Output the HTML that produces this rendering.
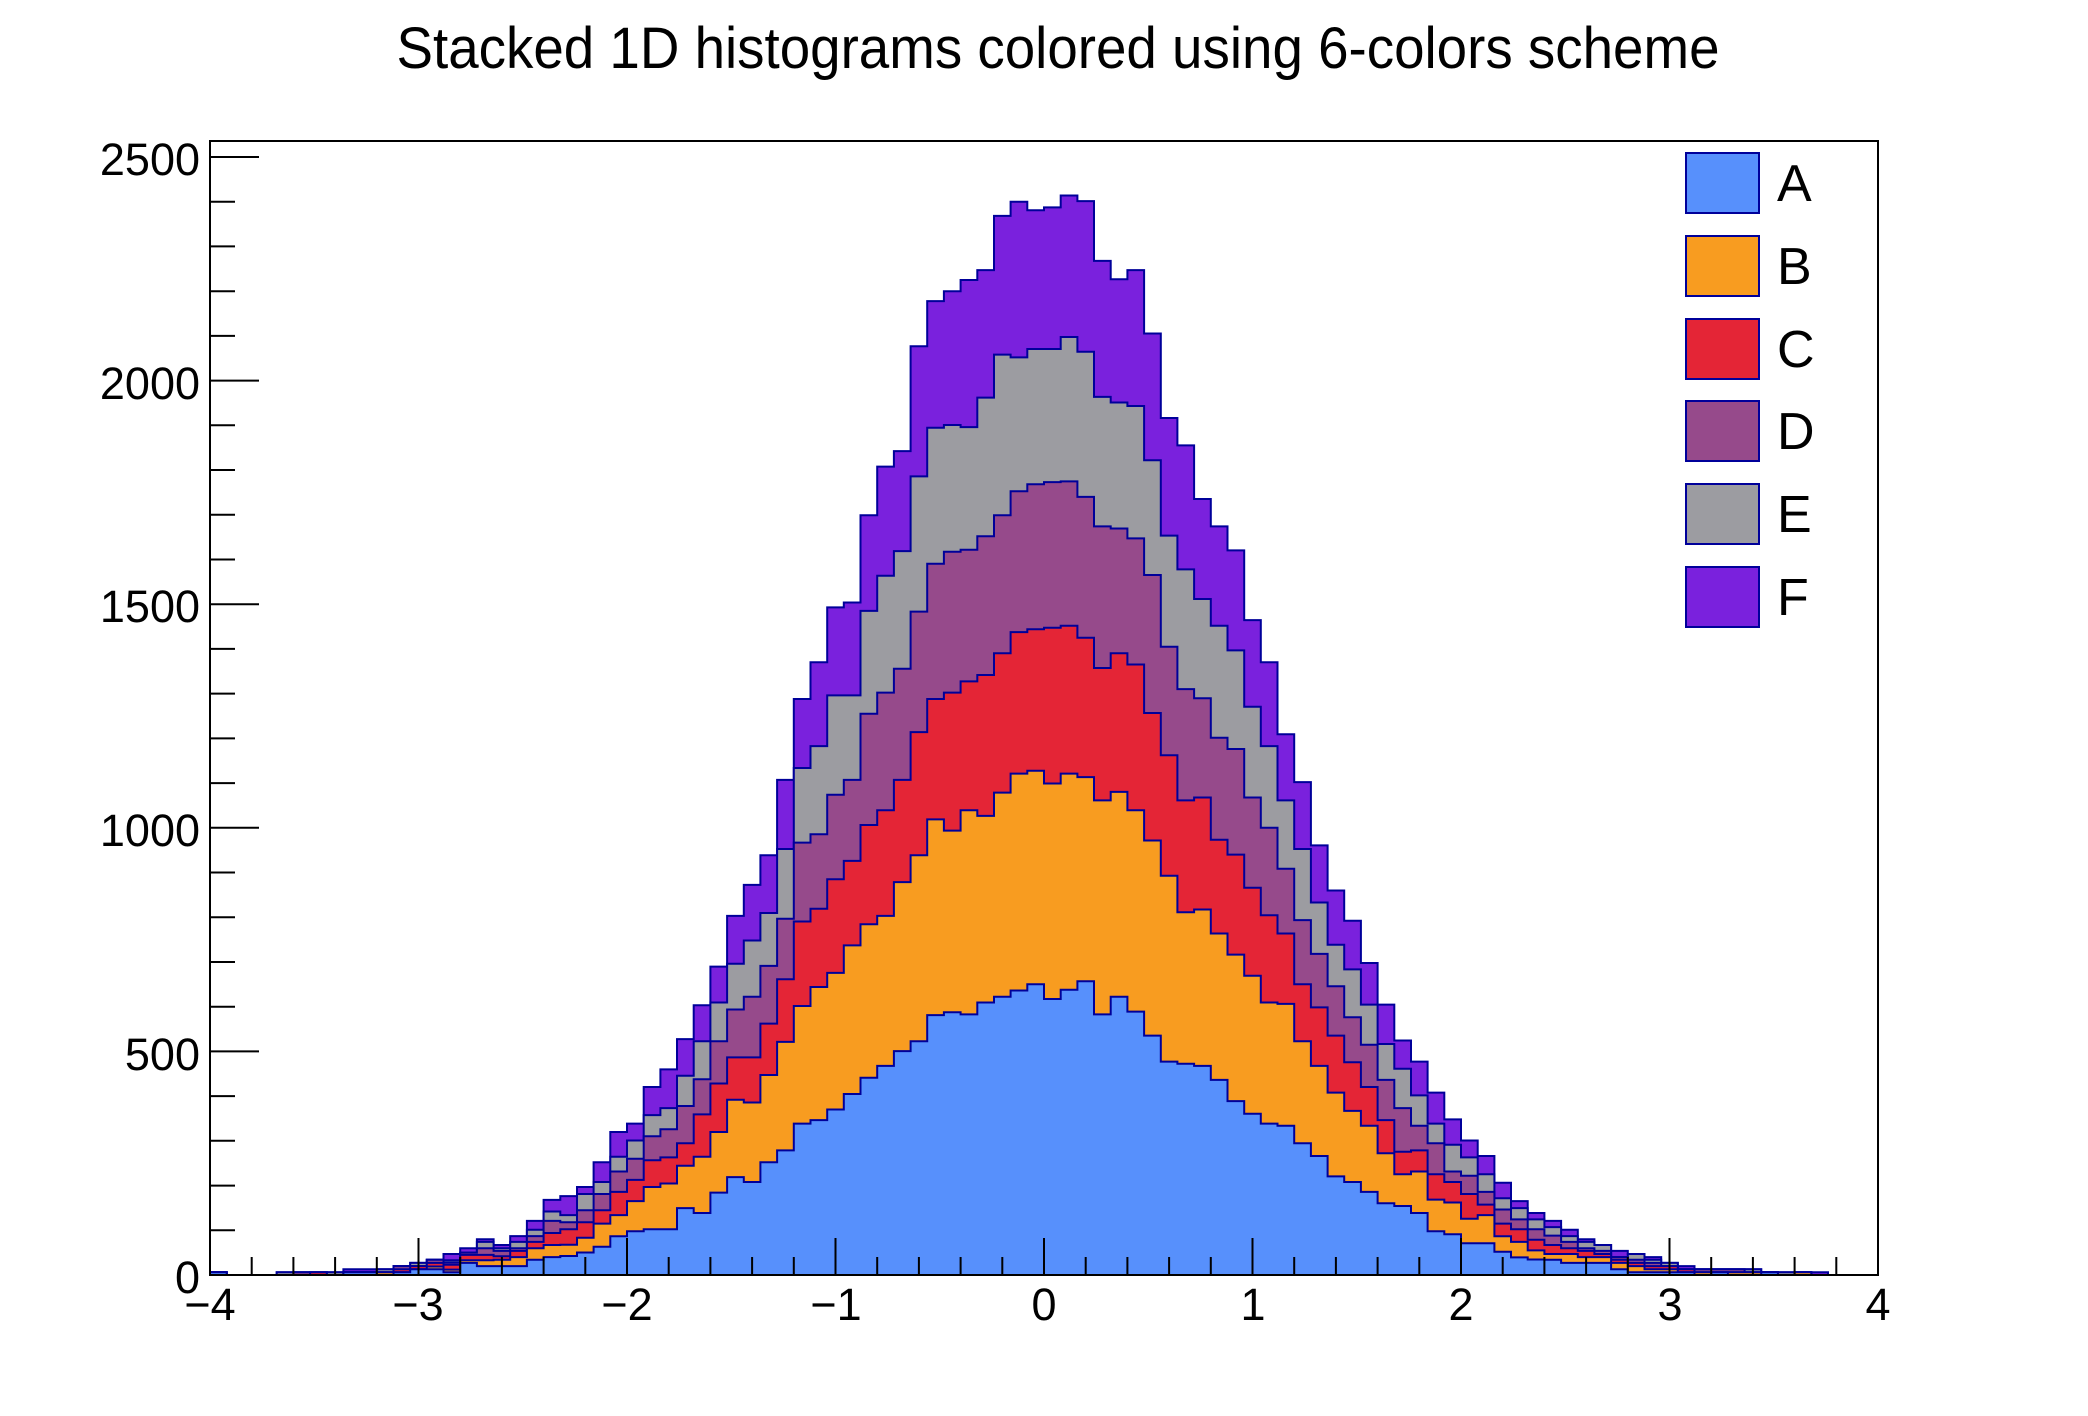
<!DOCTYPE html>
<html><head><meta charset="utf-8">
<style>
html,body{margin:0;padding:0;background:#fff;}
svg{display:block;font-family:"Liberation Sans",Arial,sans-serif;}
</style></head>
<body>
<svg id="s" xmlns="http://www.w3.org/2000/svg" width="2088" height="1416" viewBox="0 0 2088 1416">
<rect width="2088" height="1416" fill="#fff"/>
<g id="hist"></g>
<g id="ticks" stroke="#000" stroke-width="2"></g>
<rect x="210" y="141" width="1668" height="1134" fill="none" stroke="#000" stroke-width="2"/>
<text x="1058" y="68" font-size="58" text-anchor="middle" textLength="1323" lengthAdjust="spacingAndGlyphs">Stacked 1D histograms colored using 6-colors scheme</text>
<g font-size="45" text-anchor="end">
<text x="200" y="1293">0</text>
<text x="200" y="1070">500</text>
<text x="200" y="846">1000</text>
<text x="200" y="622">1500</text>
<text x="200" y="399">2000</text>
<text x="200" y="175">2500</text>
</g>
<g font-size="45" text-anchor="middle">
<text x="210" y="1320">−4</text>
<text x="418" y="1320">−3</text>
<text x="627" y="1320">−2</text>
<text x="836" y="1320">−1</text>
<text x="1044" y="1320">0</text>
<text x="1253" y="1320">1</text>
<text x="1461" y="1320">2</text>
<text x="1670" y="1320">3</text>
<text x="1878" y="1320">4</text>
</g>
<g stroke="#00009a" stroke-width="2">
<rect x="1686" y="153" width="73" height="60" fill="#5790fc"/>
<rect x="1686" y="236" width="73" height="60" fill="#f89c20"/>
<rect x="1686" y="319" width="73" height="60" fill="#e42536"/>
<rect x="1686" y="401" width="73" height="60" fill="#964a8b"/>
<rect x="1686" y="484" width="73" height="60" fill="#9c9ca1"/>
<rect x="1686" y="567" width="73" height="60" fill="#7a21dd"/>
</g>
<g font-size="52">
<text x="1777" y="201">A</text>
<text x="1777" y="284">B</text>
<text x="1777" y="367">C</text>
<text x="1777" y="449">D</text>
<text x="1777" y="532">E</text>
<text x="1777" y="615">F</text>
</g>
</svg>
<script>
(function(){
var cum=[];
function z(a){return a.map(function(v){var c=(1555-v)*1.5747;return c<0?0:c;});}
var tails={
0:[6,6,6,6,6,6],1:[0,0,0,0,0,0],2:[0,0,0,0,0,0],3:[0,0,0,0,0,0],
4:[0,0,0,0,6,6],5:[0,0,0,6,6,6],6:[0,0,6,6,6,6],7:[0,0,0,0,6,6],
8:[6,6,6,6,6,13],9:[6,6,6,6,6,13],10:[0,6,6,6,13,13],
11:[6,6,13,20,20,20],12:[13,13,20,20,27,27],13:[13,19,27,34,34,34],
14:[6,12,23,28,33,47],15:[27,33,45,50,50,60],16:[20,33,45,60,74,80],
17:[20,34,42,54,60,67],18:[20,40,54,60,74,87],19:[34,60,74,87,101,121],
20:[40,67,94,121,142,168],
80:[34,47,67,88,107,121],81:[27,47,60,74,87,101],82:[27,40,54,60,74,80],
83:[27,40,47,54,67,67],84:[13,27,34,40,40,54],85:[6,20,27,34,47,47],
86:[6,13,20,27,34,40],87:[6,13,20,20,27,27],88:[6,6,13,13,13,20],
89:[0,6,6,13,13,13],90:[6,6,6,13,13,13],91:[0,6,6,13,13,13],
92:[0,6,6,6,13,13],93:[6,6,6,6,6,6],94:[0,0,0,0,6,6],95:[0,6,6,6,6,6],
96:[0,0,0,0,0,6],97:[0,0,0,0,0,0],98:[0,0,0,0,0,0],99:[0,0,0,0,0,0]};
var mid={
21:[1528,1512,1490,1480,1470,1443],22:[1523,1502,1480,1463,1440,1430],
23:[1515,1482,1463,1440,1423,1395],24:[1500,1470,1437,1408,1387,1352],
25:[1493,1450,1420,1390,1364,1340],26:[1490,1430,1392,1358,1328,1288],
27:[1490,1425,1388,1348,1318,1263],28:[1460,1400,1368,1315,1272,1220],
29:[1467,1387,1327,1277,1223,1172],30:[1438,1352,1283,1223,1168,1117],
31:[1416,1306,1246,1178,1113,1045],32:[1423,1310,1246,1160,1080,1001],
33:[1395,1271,1198,1116,1041,959],34:[1378,1224,1135,1049,950,852],
35:[1340,1173,1053,941,835,737],36:[1335,1146,1035,929,804,685],
37:[1320,1126,993,873,732,607],38:[1298,1087,967,852,732,600],
39:[1275,1057,916,758,612,476],40:[1258,1045,895,728,562,407],
41:[1237,997,852,694,527,385],42:[1223,959,784,613,421,236],
43:[1186,908,737,545,352,172],44:[1182,924,728,528,348,158],
45:[1185,895,712,525,351,142],46:[1168,903,703,506,309,128],
47:[1160,870,672,476,248,51],48:[1151,843,642,442,252,31],
49:[1142,839,638,432,240,43],50:[1163,857,636,429,240,39],
51:[1150,843,633,428,223,22],52:[1138,848,650,450,244,30],
53:[1185,881,693,492,308,115],54:[1160,869,672,495,316,141],
55:[1181,895,688,509,321,128],56:[1215,938,757,561,398,218],
57:[1252,988,817,663,505,338],58:[1255,1040,881,723,553,377],
59:[1258,1036,877,736,595,453],60:[1278,1070,937,792,633,492],
61:[1308,1100,958,808,668,526],62:[1326,1130,1005,877,748,625],
63:[1340,1168,1044,920,804,685],64:[1343,1170,1070,978,881,787],
65:[1368,1223,1142,1051,950,855],66:[1386,1258,1175,1099,1026,945],
67:[1415,1296,1215,1145,1086,1009],68:[1423,1322,1253,1189,1121,1052],
69:[1437,1343,1288,1228,1171,1112],70:[1453,1382,1335,1278,1227,1171],
71:[1457,1412,1380,1318,1262,1222],72:[1467,1408,1378,1343,1300,1252],
73:[1493,1448,1412,1368,1340,1296],74:[1497,1452,1423,1408,1370,1334],
75:[1510,1475,1440,1414,1388,1364],76:[1510,1470,1455,1437,1412,1386],
77:[1522,1500,1482,1462,1446,1424],78:[1530,1508,1490,1476,1460,1450],
79:[1533,1520,1505,1490,1476,1467]};
for(var i=0;i<100;i++){cum[i]=tails[i]?tails[i]:z(mid[i]);}
var cols=["#5790fc","#f89c20","#e42536","#964a8b","#9c9ca1","#7a21dd"];
function X(i){return 210+16.68*i;}
function Y(c){return 1275-c*0.4472;}
var g=document.getElementById("hist"),NS="http://www.w3.org/2000/svg";
for(var L=5;L>=0;L--){
 var d="M210,1275";
 for(var i=0;i<100;i++){var y=Y(cum[i][L]).toFixed(1);d+=" L"+X(i).toFixed(1)+","+y+" L"+X(i+1).toFixed(1)+","+y;}
 d+=" L1878,1275 Z";
 var p=document.createElementNS(NS,"path");
 p.setAttribute("d",d);p.setAttribute("fill",cols[L]);p.setAttribute("stroke","#00009a");p.setAttribute("stroke-width","2");
 g.appendChild(p);
}
var t=document.getElementById("ticks"),s="";
for(var k=0;k<=40;k++){var x=210+41.7*k;var len=(k%5==0)?37:18;s+="M"+x.toFixed(1)+",1275 v-"+len+" ";}
for(var c=0;c<=2500;c+=100){var y=Y(c);var len2=(c%500==0)?49:25;s+="M210,"+y.toFixed(1)+" h"+len2+" ";}
var tp=document.createElementNS(NS,"path");tp.setAttribute("d",s);tp.setAttribute("fill","none");t.appendChild(tp);
})();
</script>
</body></html>
